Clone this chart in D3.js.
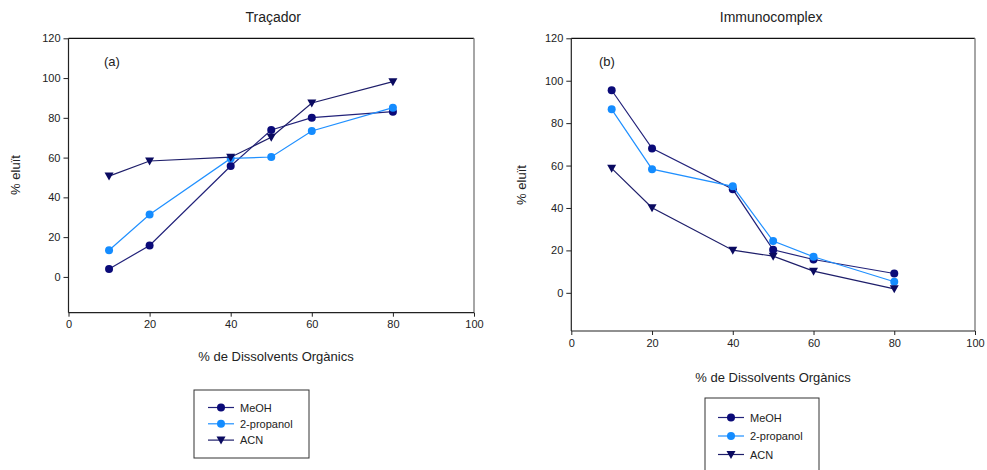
<!DOCTYPE html>
<html><head><meta charset="utf-8">
<script src="https://cdn.jsdelivr.net/npm/d3@7"></script>
<style>body{margin:0;background:#fff;} text{font-family:"Liberation Sans",Arial,sans-serif;fill:#222;}</style>
</head><body>
<svg id="c" width="987" height="470"></svg>
<script>
const xVals = [10, 20, 40, 50, 60, 80];
const seriesNames = ["MeOH", "2-propanol", "ACN"];
const tracMeOH = [4, 15.8, 55.8, 73.9, 80.1, 83.1];
const tracProp = [13.4, 31.4, 59.6, 60.3, 73.4, 85.1];
const tracACN = [50.7, 58.3, 60.2, 70.2, 87.5, 98.2];
const immMeOH = [95.5, 68.1, 48.8, 20.3, 15.7, 9.1];
const immProp = [86.5, 58.3, 50.2, 24.4, 17, 5.2];
const immACN = [58.7, 40.1, 20.1, 17.3, 10.2, 1.9];
const xTicks = [0, 20, 40, 60, 80, 100];
const yTicks = [0, 20, 40, 60, 80, 100, 120];

const colors = {"MeOH": "#0a0a78", "2-propanol": "#148cff", "ACN": "#0a0a60"};
const lineColors = {"MeOH": "#22227a", "2-propanol": "#2090ff", "ACN": "#1e1e6a"};
const shapes = {"MeOH": "circle", "2-propanol": "circle", "ACN": "tri"};

const svg = d3.select("#c");

function drawChart(cfg) {
  const x = d3.scaleLinear().domain([0, 100]).range([cfg.x0, cfg.x1]);
  const y = d3.scaleLinear().domain([-18, 120]).range([cfg.y1, cfg.y0]);
  const g = svg.append("g");
  // frame top & right
  g.append("line").attr("x1", cfg.x0).attr("x2", cfg.x1).attr("y1", cfg.y0).attr("y2", cfg.y0).attr("stroke", "#111").attr("stroke-width", 1.2);
  g.append("line").attr("x1", cfg.x1).attr("x2", cfg.x1).attr("y1", cfg.y0).attr("y2", cfg.y1).attr("stroke", "#888").attr("stroke-width", 1.5);
  const xa = g.append("g").attr("transform", `translate(0,${cfg.y1})`)
    .call(d3.axisBottom(x).tickValues(xTicks).tickSize(4).tickPadding(4).tickFormat(d3.format("d")));
  const ya = g.append("g").attr("transform", `translate(${cfg.x0},0)`)
    .call(d3.axisLeft(y).tickValues(yTicks).tickSize(5).tickPadding(3).tickFormat(d3.format("d")));
  [xa, ya].forEach(a => {
    a.select(".domain").attr("stroke", "#222").attr("stroke-width", 1.2);
    a.selectAll(".tick line").attr("stroke", "#222");
    a.selectAll("text").attr("font-size", 11).attr("fill", "#222").style("font-family", '"Liberation Sans",Arial,sans-serif');
  });
  ya.select(".domain").attr("d", `M-0,${cfg.y1}V${cfg.y0}`);
  xa.select(".domain").attr("d", `M${cfg.x0},0H${cfg.x1}`);
  g.append("text").attr("x", (cfg.x0 + cfg.x1) / 2 + cfg.titleDx).attr("y", 22).attr("text-anchor", "middle").attr("font-size", 14).text(cfg.title);
  g.append("text").attr("transform", `translate(${cfg.ylx},${cfg.yly}) rotate(-90)`).attr("text-anchor", "middle").attr("font-size", 13).text("% eluït");
  g.append("text").attr("x", cfg.xlx).attr("y", cfg.xly).attr("text-anchor", "middle").attr("font-size", 13).text("% de Dissolvents Orgànics");
  g.append("text").attr("x", cfg.tagX).attr("y", 66).attr("font-size", 13).text(cfg.tag);

  const line = d3.line().x(d => x(d[0])).y(d => y(d[1]));
  cfg.data.forEach((vals, i) => {
    const name = seriesNames[i];
    const pts = xVals.map((xv, j) => [xv, vals[j]]);
    g.append("path").attr("d", line(pts)).attr("fill", "none").attr("stroke", lineColors[name]).attr("stroke-width", 1.2);
    pts.forEach(p => drawMarker(g, name, x(p[0]), y(p[1])));
  });

  // legend
  const L = cfg.legend;
  g.append("rect").attr("x", L.x).attr("y", L.y).attr("width", L.w).attr("height", L.h).attr("fill", "#fff").attr("stroke", "#333").attr("stroke-width", 1);
  seriesNames.forEach((name, i) => {
    const yy = L.y0 + i * L.dy;
    g.append("line").attr("x1", L.lx).attr("x2", L.lx + 26).attr("y1", yy).attr("y2", yy).attr("stroke", lineColors[name]).attr("stroke-width", 1.2);
    drawMarker(g, name, L.lx + 13, yy);
    g.append("text").attr("x", L.lx + 32).attr("y", yy + 4).attr("font-size", 11).text(name);
  });
}

function drawMarker(g, name, cx, cy) {
  if (shapes[name] === "circle") {
    g.append("circle").attr("cx", cx).attr("cy", cy).attr("r", 4).attr("fill", colors[name]);
  } else {
    g.append("path").attr("d", `M${cx - 4.5},${cy - 3.5}L${cx + 4.5},${cy - 3.5}L${cx},${cy + 4.5}Z`).attr("fill", colors[name]);
  }
}

drawChart({x0: 68.5, x1: 474, y0: 38.3, y1: 312.7, title: "Traçador", titleDx: 2, ylx: 20, yly: 175,
  xlx: 276, xly: 361, tag: "(a)", tagX: 104,
  data: [tracMeOH, tracProp, tracACN],
  legend: {x: 194, y: 390, w: 115, h: 68, lx: 208, y0: 407.5, dy: 16.3}});
drawChart({x0: 571.3, x1: 975, y0: 38.3, y1: 331, title: "Immunocomplex", titleDx: -2, ylx: 526, yly: 185,
  xlx: 773, xly: 382, tag: "(b)", tagX: 599,
  data: [immMeOH, immProp, immACN],
  legend: {x: 705, y: 398, w: 114, h: 80, lx: 718, y0: 417.5, dy: 18.5}});
</script>
</body></html>
